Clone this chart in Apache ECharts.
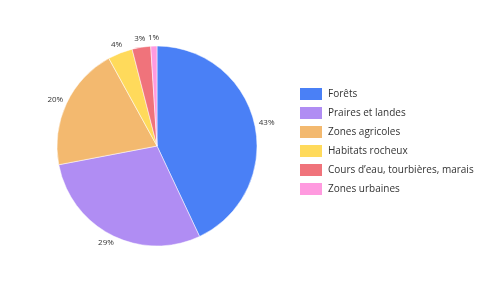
<!DOCTYPE html>
<html><head><meta charset="utf-8">
<script src="https://cdn.jsdelivr.net/npm/echarts@6/dist/echarts.min.js"></script>
<style>html,body{margin:0;padding:0;background:#fff}#c{width:500px;height:281px}</style>
</head><body><div id="c"></div>
<script>
const categories = ['Forêts','Praires et landes','Zones agricoles','Habitats rocheux','Cours d\u2019eau, tourbières, marais','Zones urbaines'];
const values = [43, 29, 20, 4, 3, 1];
const colors = ['#4a80f6','#b08df3','#f3b96f','#ffda5b','#f0737b','#ff9adf'];

const CX = 157, CY = 146, R = 100, LABEL_R = 104.5;
const total = values.reduce((a, b) => a + b, 0);

const chart = echarts.init(document.getElementById('c'), null, {renderer:'canvas'});
chart.setOption({
  animation: false,
  color: colors,
  textStyle: {fontFamily: 'Open Sans'},
  legend: {
    orient: 'vertical',
    left: 298,
    top: 86,
    padding: 0,
    itemWidth: 24,
    itemHeight: 14,
    itemGap: 3,
    icon: 'rect',
    textStyle: {fontFamily: 'Open Sans', fontSize: 10, color: '#333'},
    data: categories
  },
  series: [{
    type: 'pie',
    center: [CX, CY],
    radius: [0, R],
    startAngle: 90,
    clockwise: true,
    avoidLabelOverlap: false,
    data: categories.map((n, i) => ({name: n, value: values[i]})),
    label: {
      show: true,
      position: 'outside',
      formatter: p => p.value + '%',
      fontFamily: 'Open Sans',
      fontSize: 8,
      color: '#333'
    },
    labelLine: {show: false, length: 3, length2: 0},
    labelLayout: function (params) {
      const i = params.dataIndex;
      let cum = 0;
      for (let k = 0; k < i; k++) cum += values[k];
      const mid = (cum + values[i] / 2) / total * Math.PI * 2;
      const vx = Math.sin(mid), vy = -Math.cos(mid);
      const w = params.labelRect.width, h = params.labelRect.height;
      return {
        x: CX + LABEL_R * vx + vx * w / 2,
        y: CY + LABEL_R * vy + vy * h / 2,
        align: 'center',
        verticalAlign: 'middle'
      };
    },
    itemStyle: {borderColor: '#fff', borderWidth: 0.5}
  }]
});
</script></body></html>
